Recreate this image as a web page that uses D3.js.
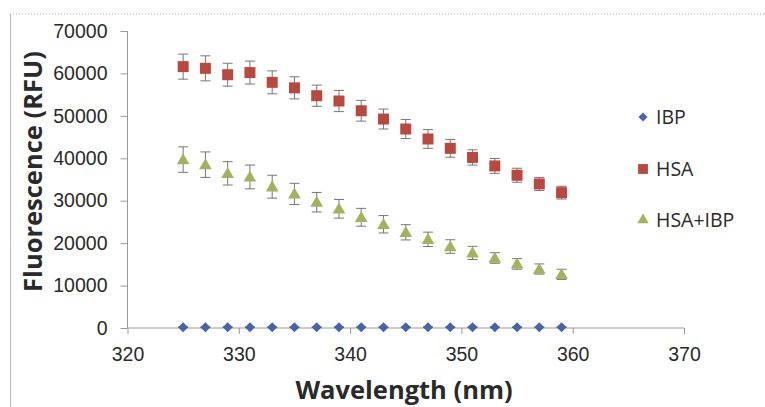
<!DOCTYPE html>
<html>
<head>
  <meta charset="utf-8">
  <title>Fluorescence vs wavelength</title>
  <script src="https://d3js.org/d3.v7.min.js"></script>
  <style>
    body { margin: 0; background: #fff; }
    svg { display: block; font-family: "Open Sans", sans-serif; }
  </style>
</head>
<body>
<div id="chart"></div>
<script>
// wavelengths (nm)
var wavelengths = [325, 327, 329, 331, 333, 335, 337, 339, 341, 343, 345, 347, 349, 351, 353, 355, 357, 359];

// series values (RFU) and error bars
var ibp = [200, 200, 200, 200, 200, 200, 200, 200, 200, 200, 200, 200, 200, 200, 200, 200, 200, 200];
var ibpErr = [60, 60, 60, 60, 60, 60, 60, 60, 60, 60, 60, 60, 60, 60, 60, 60, 60, 60];

var hsa = [61600, 61200, 59700, 60200, 57900, 56600, 54750, 53500, 51200, 49250, 46900, 44550, 42350, 40200, 38200, 36000, 33950, 31900];
var hsaErr = [2950, 2950, 2700, 2700, 2700, 2600, 2500, 2500, 2450, 2350, 2250, 2200, 2100, 1800, 1750, 1650, 1550, 1500];

var hsaIbp = [39700, 38500, 36450, 35600, 33300, 31600, 29650, 28100, 26100, 24450, 22550, 20900, 19200, 17700, 16500, 15100, 13900, 12650];
var hsaIbpErr = [3000, 3000, 2750, 2800, 2700, 2500, 2300, 2200, 2100, 2050, 1800, 1700, 1600, 1550, 1250, 1250, 1200, 1200];

var xTicks = [320, 330, 340, 350, 360, 370];
var yTicks = [0, 10000, 20000, 30000, 40000, 50000, 60000, 70000];

var seriesNames = ["IBP", "HSA", "HSA+IBP"];

var W = 765, H = 407;
var svg = d3.select("#chart").append("svg")
  .attr("width", W).attr("height", H);

// outer chart frame (dotted top, grey left)
svg.append("line").attr("x1", 10).attr("x2", W).attr("y1", 14).attr("y2", 14)
  .attr("stroke", "#aaa").attr("stroke-dasharray", "1,2");
svg.append("line").attr("x1", 10.5).attr("x2", 10.5).attr("y1", 14).attr("y2", H)
  .attr("stroke", "#bbb");

var x = d3.scaleLinear().domain([320, 370]).range([127.5, 684]);
var y = d3.scaleLinear().domain([0, 70000]).range([328, 31]);

// y axis
var yAxis = svg.append("g")
  .attr("transform", "translate(127.5,0)")
  .call(d3.axisLeft(y).tickValues(yTicks).tickSize(7).tickPadding(13).tickFormat(d3.format("d")));
yAxis.select(".domain").attr("stroke", "#999").attr("d", "M0," + y(70000) + "V" + y(0));

// x axis at y = 0
var xAxis = svg.append("g")
  .attr("transform", "translate(0," + y(0) + ")")
  .call(d3.axisBottom(x).tickValues(xTicks).tickSize(6).tickPadding(13).tickFormat(d3.format("d")));
xAxis.select(".domain").attr("stroke", "#999").attr("d", "M" + x(320) + ",0H" + x(370));

svg.selectAll(".tick line").attr("stroke", "#999");
svg.selectAll(".tick text").attr("fill", "#2a2a2a").style("font-size", "19.5px");

// axis titles
svg.append("text")
  .attr("transform", "translate(42," + ((y(0) + y(70000)) / 2 - 8) + ") rotate(-90)")
  .attr("text-anchor", "middle")
  .attr("fill", "#2a2a2a")
  .style("font-size", "25.5px").style("font-weight", "bold")
  .text("Fluorescence (RFU)");

svg.append("text")
  .attr("x", 404).attr("y", 399)
  .attr("text-anchor", "middle")
  .attr("fill", "#2a2a2a")
  .style("font-size", "25.5px").style("font-weight", "bold")
  .text("Wavelength (nm)");

var series = [
  { name: seriesNames[0], values: ibp, err: ibpErr, color: "#4a62aa", symbol: d3.symbolSquare, size: 50, rot: 45 },
  { name: seriesNames[1], values: hsa, err: hsaErr, color: "#b9483f", symbol: d3.symbolSquare, size: 121, rot: 0 },
  { name: seriesNames[2], values: hsaIbp, err: hsaIbpErr, color: "#a3b25c", symbol: d3.symbolTriangle, size: 70, rot: 0 }
];

series.forEach(function (s) {
  var pts = wavelengths.map(function (w, i) {
    return { x: w, v: s.values[i], e: s.err[i] };
  });
  var g = svg.append("g");

  // error bars
  var eb = g.selectAll(".err").data(pts).enter().append("g");
  eb.append("line")
    .attr("x1", function (d) { return x(d.x); }).attr("x2", function (d) { return x(d.x); })
    .attr("y1", function (d) { return y(d.v + d.e); }).attr("y2", function (d) { return y(d.v - d.e); })
    .attr("stroke", "#777").attr("stroke-width", 1);
  [1, -1].forEach(function (sgn) {
    eb.append("line")
      .attr("x1", function (d) { return x(d.x) - 5; }).attr("x2", function (d) { return x(d.x) + 5; })
      .attr("y1", function (d) { return y(d.v + sgn * d.e); }).attr("y2", function (d) { return y(d.v + sgn * d.e); })
      .attr("stroke", "#777").attr("stroke-width", 1);
  });

  // markers
  g.selectAll(".pt").data(pts).enter().append("path")
    .attr("d", d3.symbol().type(s.symbol).size(s.size))
    .attr("transform", function (d) {
      var dy = s.symbol === d3.symbolTriangle ? 1 : 0;
      return "translate(" + x(d.x) + "," + (y(d.v) + dy) + ") rotate(" + s.rot + ")";
    })
    .attr("fill", s.color);
});

// legend
var legY = [117, 169, 220];
var leg = svg.selectAll(".leg").data(series).enter().append("g")
  .attr("transform", function (d, i) { return "translate(643," + legY[i] + ")"; });
leg.append("path")
  .attr("d", function (d) { return d3.symbol().type(d.symbol).size(d.size * 0.8)(); })
  .attr("transform", function (d) { return "rotate(" + d.rot + ")"; })
  .attr("fill", function (d) { return d.color; });
leg.append("text")
  .attr("x", 13).attr("y", 7)
  .attr("fill", "#2a2a2a")
  .style("font-size", "19.5px")
  .text(function (d) { return d.name; });
</script>
</body>
</html>
